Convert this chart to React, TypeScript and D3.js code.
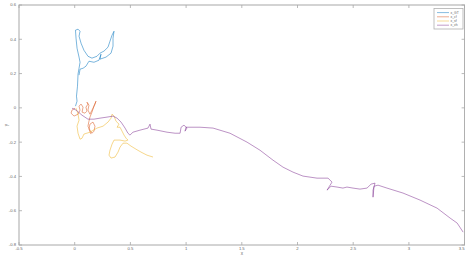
import React, { useEffect, useRef } from 'react';
import * as d3 from 'd3';

const width = 465,
  height = 256;

const xTicks = [-0.5, 0, 0.5, 1, 1.5, 2, 2.5, 3, 3.5];
const yTicks = [-0.8, -0.6, -0.4, -0.2, 0, 0.2, 0.4, 0.6];
const seriesNames = ['x_GT', 'x_cf', 'x_sf', 'x_vh'];
const seriesColors = ['#0072BD', '#D95319', '#EDB120', '#7E2F8E'];

// trajectories, [x, y]
const gtPath = [
  [0.007, 0.010], [0.021, 0.039], [0.016, 0.068], [0.025, 0.126], [0.030, 0.197],
  [0.039, 0.231], [0.048, 0.266], [0.039, 0.296], [0.021, 0.348], [0.012, 0.406],
  [0.007, 0.453], [0.030, 0.459], [0.048, 0.447], [0.039, 0.418], [0.057, 0.377],
  [0.083, 0.336], [0.119, 0.301], [0.155, 0.290], [0.200, 0.301], [0.227, 0.319],
  [0.263, 0.331], [0.299, 0.354], [0.317, 0.389], [0.335, 0.424], [0.353, 0.447],
  [0.344, 0.406], [0.344, 0.360], [0.326, 0.319], [0.281, 0.296], [0.227, 0.284],
  [0.236, 0.313], [0.218, 0.278], [0.173, 0.266], [0.128, 0.272], [0.101, 0.243],
  [0.075, 0.231], [0.048, 0.226], [0.039, 0.191]
];

const cfPath = [
  [0.003, -0.002], [-0.024, -0.013], [-0.033, -0.031], [-0.006, -0.048], [0.030, -0.037],
  [0.048, -0.013], [0.039, 0.010], [0.057, 0.022], [0.075, 0.004], [0.066, -0.025],
  [0.092, -0.031], [0.110, -0.019], [0.101, 0.004], [0.119, 0.022], [0.110, 0.033],
  [0.128, 0.016], [0.119, -0.013], [0.137, -0.037], [0.164, -0.002], [0.182, 0.022],
  [0.191, 0.039], [0.173, 0.010], [0.155, -0.025], [0.137, -0.054], [0.128, -0.078],
  [0.119, -0.107], [0.137, -0.130], [0.155, -0.148], [0.173, -0.136], [0.182, -0.107],
  [0.164, -0.083], [0.137, -0.095], [0.128, -0.124], [0.146, -0.153]
];

const sfPath = [
  [0.012, -0.002], [0.030, -0.037], [0.039, -0.072], [0.021, -0.107], [0.030, -0.148],
  [0.048, -0.183], [0.066, -0.177], [0.083, -0.153], [0.137, -0.142], [0.200, -0.118],
  [0.254, -0.107], [0.299, -0.083], [0.326, -0.060], [0.335, -0.037], [0.353, -0.048],
  [0.371, -0.078], [0.398, -0.095], [0.380, -0.113], [0.407, -0.113], [0.425, -0.136],
  [0.443, -0.159], [0.461, -0.177], [0.478, -0.188], [0.452, -0.194], [0.407, -0.188],
  [0.353, -0.188], [0.335, -0.212], [0.317, -0.247], [0.308, -0.276], [0.326, -0.293],
  [0.362, -0.287], [0.389, -0.258], [0.407, -0.229], [0.434, -0.206], [0.469, -0.206],
  [0.505, -0.223], [0.550, -0.241], [0.595, -0.258], [0.649, -0.276], [0.703, -0.287]
];

const vhPath = [
  [-0.024, -0.002], [0.012, -0.013], [0.066, -0.043], [0.119, -0.066], [0.173, -0.066],
  [0.227, -0.060], [0.290, -0.054], [0.344, -0.048], [0.380, -0.060], [0.416, -0.083],
  [0.452, -0.118], [0.478, -0.148], [0.496, -0.159], [0.523, -0.142], [0.586, -0.130],
  [0.658, -0.118], [0.676, -0.095], [0.685, -0.124], [0.739, -0.130], [0.829, -0.142],
  [0.901, -0.148], [0.946, -0.148], [0.955, -0.113], [0.981, -0.101], [1.008, -0.118],
  [0.990, -0.136], [0.999, -0.113], [1.062, -0.113], [1.125, -0.113], [1.242, -0.118],
  [1.394, -0.148], [1.547, -0.200], [1.663, -0.247], [1.780, -0.305], [1.870, -0.346],
  [1.960, -0.375], [2.049, -0.398], [2.175, -0.410], [2.274, -0.410], [2.310, -0.433],
  [2.265, -0.480], [2.301, -0.457], [2.355, -0.462], [2.408, -0.468], [2.444, -0.462],
  [2.498, -0.468], [2.561, -0.474], [2.624, -0.468], [2.660, -0.445], [2.696, -0.439],
  [2.678, -0.480], [2.678, -0.521], [2.687, -0.457], [2.723, -0.451], [2.803, -0.468],
  [2.947, -0.497], [3.100, -0.538], [3.253, -0.585], [3.370, -0.643], [3.433, -0.672],
  [3.487, -0.725]
];

const allPaths = [gtPath, cfPath, sfPath, vhPath];

const x = d3.scaleLinear().domain([-0.5, 3.5]).range([19, 464.6]);
const y = d3.scaleLinear().domain([-0.8, 0.6]).range([245, 5]);

function App() {
  const ref = useRef<SVGSVGElement>(null);

  useEffect(() => {
    const svg = d3.select(ref.current);
    svg.selectAll('*').remove();

    const left = x(-0.5), right = x(3.5), top = y(0.6), bottom = y(-0.8);
    const tickLen = 3;
    const axisColor = '#a8a8a8';

    // box
    svg.append('rect')
      .attr('x', left).attr('y', top)
      .attr('width', right - left).attr('height', bottom - top)
      .attr('fill', 'none').attr('stroke', axisColor).attr('stroke-width', 1);

    // ticks point inward on all four sides
    xTicks.forEach(t => {
      svg.append('line').attr('x1', x(t)).attr('x2', x(t))
        .attr('y1', bottom).attr('y2', bottom - tickLen)
        .attr('stroke', axisColor).attr('stroke-width', 0.8);
      svg.append('line').attr('x1', x(t)).attr('x2', x(t))
        .attr('y1', top).attr('y2', top + tickLen)
        .attr('stroke', axisColor).attr('stroke-width', 0.8);
    });
    yTicks.forEach(t => {
      svg.append('line').attr('x1', left).attr('x2', left + tickLen)
        .attr('y1', y(t)).attr('y2', y(t))
        .attr('stroke', axisColor).attr('stroke-width', 0.8);
      svg.append('line').attr('x1', right).attr('x2', right - tickLen)
        .attr('y1', y(t)).attr('y2', y(t))
        .attr('stroke', axisColor).attr('stroke-width', 0.8);
    });

    const font = 'Liberation Sans, Arial, sans-serif';

    svg.selectAll('text.xt').data(xTicks).enter().append('text')
      .attr('class', 'xt')
      .attr('x', d => x(d)).attr('y', bottom + 5)
      .attr('text-anchor', d => (d === 3.5 ? 'end' : 'middle'))
      .attr('font-family', font).attr('font-size', 4.2).attr('fill', '#666')
      .text(d => String(d));

    svg.selectAll('text.yt').data(yTicks).enter().append('text')
      .attr('class', 'yt')
      .attr('x', left - 3).attr('y', d => y(d) + 1.4)
      .attr('text-anchor', 'end')
      .attr('font-family', font).attr('font-size', 4.2).attr('fill', '#666')
      .text(d => String(d));

    svg.append('text')
      .attr('x', x(1.5)).attr('y', bottom + 9.5)
      .attr('text-anchor', 'middle')
      .attr('font-family', font).attr('font-size', 4.6).attr('fill', '#666')
      .text('x');

    svg.append('text')
      .attr('transform', `translate(8,${y(-0.1)}) rotate(-90)`)
      .attr('text-anchor', 'middle')
      .attr('font-family', font).attr('font-size', 4.6).attr('fill', '#666')
      .text('y');

    const line = d3.line<number[]>()
      .x(d => x(d[0]))
      .y(d => y(d[1]));

    allPaths.forEach((p, i) => {
      svg.append('path')
        .attr('d', line(p))
        .attr('fill', 'none')
        .attr('stroke', seriesColors[i])
        .attr('stroke-opacity', 0.65)
        .attr('stroke-width', 0.8)
        .attr('stroke-linejoin', 'round');
    });

    // legend
    const lg = svg.append('g');
    lg.append('rect')
      .attr('x', 434).attr('y', 8.5)
      .attr('width', 29).attr('height', 20.5)
      .attr('fill', '#fff').attr('stroke', '#b0b0b0').attr('stroke-width', 0.8);
    seriesNames.forEach((name, i) => {
      const ly = 12.6 + i * 4.2;
      lg.append('line')
        .attr('x1', 437).attr('x2', 449)
        .attr('y1', ly).attr('y2', ly)
        .attr('stroke', seriesColors[i]).attr('stroke-opacity', 0.6)
        .attr('stroke-width', 0.8);
      lg.append('text')
        .attr('x', 450.5).attr('y', ly + 1.2)
        .attr('font-family', font).attr('font-size', 3.4).attr('fill', '#666')
        .text(name);
    });
  }, []);

  return (
    <div>
      <svg ref={ref} width={width} height={height}
        style={{ position: 'absolute', left: 0, top: 0, background: '#fff' }}></svg>
    </div>
  );
}

export default App;
